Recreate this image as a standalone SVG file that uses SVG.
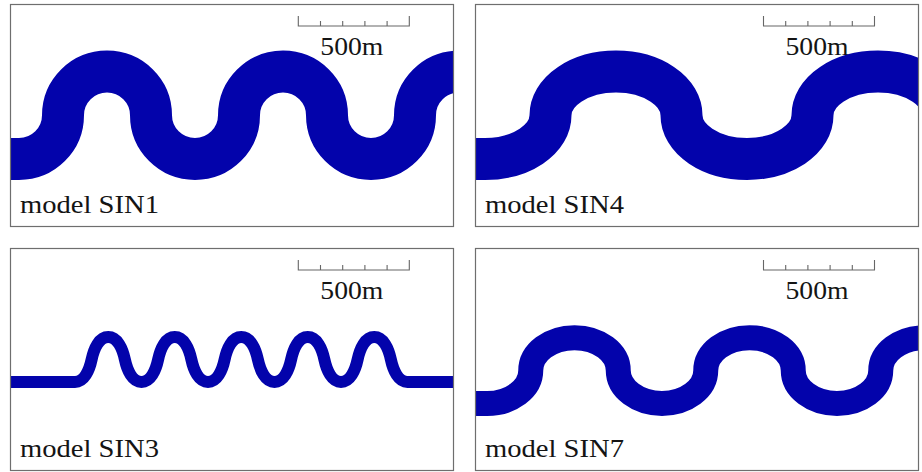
<svg xmlns="http://www.w3.org/2000/svg" xmlns:xlink="http://www.w3.org/1999/xlink" width="922" height="472" viewBox="0 0 922 472">
<style>
.frame{fill:none;stroke:#6e6e6e;stroke-width:1.2}
.river{fill:none;stroke:#0303ab;stroke-linejoin:round}
.bar{fill:none;stroke:#666;stroke-width:1.1}
.lbl{font-family:"Liberation Serif","Times New Roman",serif;font-size:25px;fill:#141414}
</style>
<defs>
<clipPath id="c1"><rect x="10.5" y="4.5" width="443" height="222"/></clipPath>
<clipPath id="c2"><rect x="475.5" y="4.5" width="443" height="222"/></clipPath>
<clipPath id="c3"><rect x="10.5" y="248.5" width="443" height="222"/></clipPath>
<clipPath id="c4"><rect x="475.5" y="248.5" width="443" height="222"/></clipPath>
<g id="scalebar">
<path class="bar" d="M0 11.5V21.5H111V11.5M22.2 16.5V21.5M44.4 16.5V21.5M66.6 16.5V21.5M88.8 16.5V21.5"/>
<text class="lbl" x="22" y="50" textLength="63" lengthAdjust="spacingAndGlyphs">500m</text>
</g>
</defs>
<rect width="922" height="472" fill="#fff"/>
<g id="sin1">
<path class="river" clip-path="url(#c1)" stroke-width="42" d="M0 159 L19 159 A44 43.7 0 0 0 63 115.3 A44 43.7 0 0 1 151 115.3 A44 43.7 0 0 0 239 115.3 A44 43.7 0 0 1 327 115.3 A44 43.7 0 0 0 415 115.3 A44 43.7 0 0 1 503 115.3"/>
<rect class="frame" x="10.5" y="4.5" width="443" height="222"/>
<use xlink:href="#scalebar" href="#scalebar" x="298.3" y="4.5"/>
<text class="lbl" x="20" y="212.5" textLength="139" lengthAdjust="spacingAndGlyphs">model SIN1</text>
</g>
<g id="sin4">
<path class="river" clip-path="url(#c2)" stroke-width="42" d="M470 159 L485 159 A65.5 43.7 0 0 0 550.5 115.3 A65.5 43.7 0 0 1 681.5 115.3 A65.5 43.7 0 0 0 812.5 115.3 A65.5 43.7 0 0 1 943.5 115.3"/>
<rect class="frame" x="475.5" y="4.5" width="443" height="222"/>
<use xlink:href="#scalebar" href="#scalebar" x="763.5" y="4.5"/>
<text class="lbl" x="485" y="212.5" textLength="139" lengthAdjust="spacingAndGlyphs">model SIN4</text>
</g>
<g id="sin3">
<path class="river" clip-path="url(#c3)" stroke-width="12" d="M0 382 L75 382 C84.14 382 89.285 370.5 91.625 359.5 S99.11 337 108.25 337 S122.535 348.5 124.875 359.5 S132.36 382 141.5 382 S155.785 370.5 158.125 359.5 S165.61 337 174.75 337 S189.035 348.5 191.375 359.5 S198.86 382 208 382 S222.285 370.5 224.625 359.5 S232.11 337 241.25 337 S255.535 348.5 257.875 359.5 S265.36 382 274.5 382 S288.785 370.5 291.125 359.5 S298.61 337 307.75 337 S322.035 348.5 324.375 359.5 S331.86 382 341 382 S355.285 370.5 357.625 359.5 S365.11 337 374.25 337 S388.535 348.5 390.875 359.5 S398.36 382 407.5 382 L460 382"/>
<rect class="frame" x="10.5" y="248.5" width="443" height="222"/>
<use xlink:href="#scalebar" href="#scalebar" x="298.3" y="248.5"/>
<text class="lbl" x="20" y="456.5" textLength="139" lengthAdjust="spacingAndGlyphs">model SIN3</text>
</g>
<g id="sin7">
<path class="river" clip-path="url(#c4)" stroke-width="25" d="M470 403.5 L487 403.5 A43.75 32.9 0 0 0 530.75 370.6 A43.75 32.9 0 0 1 618.25 370.6 A43.75 32.9 0 0 0 705.75 370.6 A43.75 32.9 0 0 1 793.25 370.6 A43.75 32.9 0 0 0 880.75 370.6 A43.75 32.9 0 0 1 968.25 370.6"/>
<rect class="frame" x="475.5" y="248.5" width="443" height="222"/>
<use xlink:href="#scalebar" href="#scalebar" x="763.5" y="248.5"/>
<text class="lbl" x="485" y="456.5" textLength="139" lengthAdjust="spacingAndGlyphs">model SIN7</text>
</g>
</svg>
